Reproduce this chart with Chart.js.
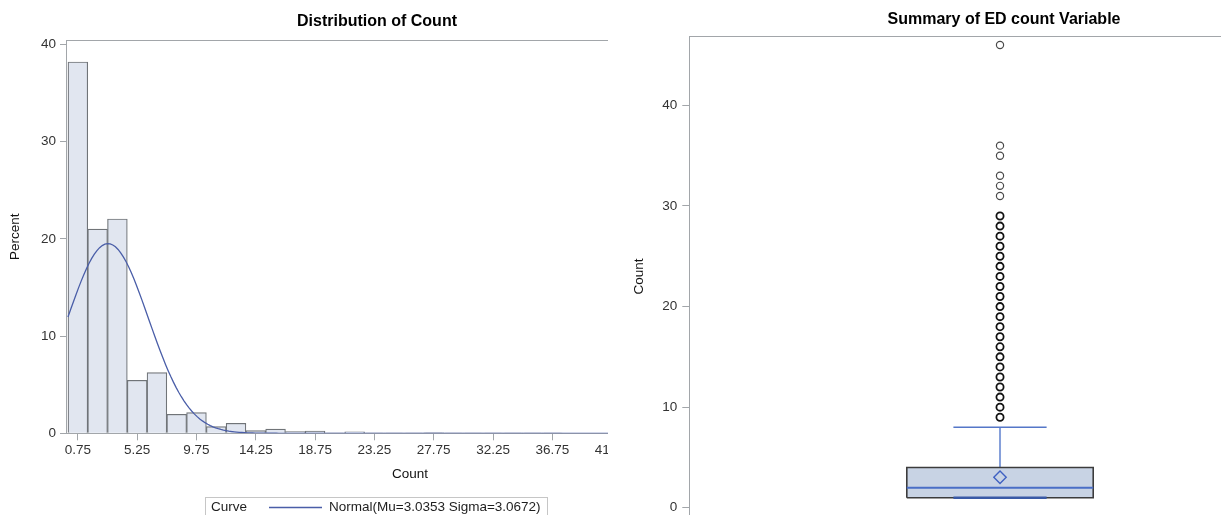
<!DOCTYPE html>
<html>
<head>
<meta charset="utf-8">
<script src="https://cdn.jsdelivr.net/npm/chart.js@4.4.1/dist/chart.umd.min.js"></script>
<style>
  html, body { margin: 0; padding: 0; background: #fff; }
  body { width: 1221px; height: 515px; overflow: hidden; position: relative; }
  #histWrap { position: absolute; left: 0; top: 0; width: 608px; height: 515px; overflow: hidden; }
  #boxWrap { position: absolute; left: 612px; top: 0; width: 609px; height: 515px; overflow: hidden; }
  canvas { display: block; }
</style>
</head>
<body>
<div id="histWrap"><canvas id="hist" width="754" height="530"></canvas></div>
<div id="boxWrap"><canvas id="box" width="784" height="530"></canvas></div>
<script>
// ---- Histogram of Count (bin width 1.5, values in percent) ----
const binMidpoints = [0.75, 2.25, 3.75, 5.25, 6.75, 8.25, 9.75, 11.25, 12.75, 14.25,
                      15.75, 17.25, 18.75, 20.25, 21.75, 23.25, 24.75, 26.25, 27.75, 29.25,
                      30.75, 32.25, 33.75, 35.25, 36.75, 38.25, 39.75, 41.25, 42.75, 44.25, 45.75];
const binPercents  = [38.2, 21.0, 22.05, 5.45, 6.25, 1.95, 2.12, 0.68, 1.03, 0.27,
                      0.44, 0.17, 0.22, 0.05, 0.15, 0.04, 0.04, 0.03, 0.08, 0.04,
                      0.03, 0.04, 0.02, 0.04, 0.02, 0, 0, 0, 0, 0, 0.02];
const countTicks      = [0.75, 5.25, 9.75, 14.25, 18.75, 23.25, 27.75, 32.25, 36.75, 41.25, 45.75, 50.25];
const countTickLabels = ['0.75', '5.25', '9.75', '14.25', '18.75', '23.25', '27.75', '32.25', '36.75', '41.25', '45.75', '50.25'];
const percentTicks    = [0, 10, 20, 30, 40];

// Fitted normal curve parameters
const NORMAL_MU = 3.0353;
const NORMAL_SIGMA = 3.0672;
const BIN_WIDTH = 1.5;

// ---- Box plot of ED count ----
const edLowerWhisker = 1;
const edQ1 = 1;
const edMedian = 2;
const edQ3 = 4;
const edUpperWhisker = 8;
const edMean = 3.0353;
const edOutliersFrequent = [9, 10, 11, 12, 13, 14, 15, 16, 17, 18, 19, 20, 21, 22, 23, 24, 25, 26, 27, 28, 29];
const edOutliersSparse = [31, 32, 33, 35, 36, 46];
const edCountTicks = [0, 10, 20, 30, 40];

// Normal density expressed as percent per bin
function normalPercent(x) {
  const z = (x - NORMAL_MU) / NORMAL_SIGMA;
  return 100 * BIN_WIDTH * Math.exp(-0.5 * z * z) / (NORMAL_SIGMA * Math.sqrt(2 * Math.PI));
}
const curvePoints = [];
for (let i = 0; i <= 260; i++) {
  const x = i * 0.2;
  curvePoints.push({ x: x, y: normalPercent(x) });
}

const FONT = '"Liberation Sans", Arial, Helvetica, sans-serif';
Chart.defaults.font.family = FONT;
Chart.defaults.color = '#333';

const AXIS_GRAY = '#a2a6aa';

// Outline of the plot wall
const plotFrame = {
  id: 'plotFrame',
  beforeDatasetsDraw(chart) {
    const { ctx, chartArea: a } = chart;
    ctx.save();
    ctx.strokeStyle = AXIS_GRAY;
    ctx.lineWidth = 1;
    ctx.strokeRect(Math.round(a.left) + 0.5, Math.round(a.top) + 0.5,
                   Math.round(a.right - a.left), Math.round(a.bottom - a.top));
    ctx.restore();
  }
};

// Legend box: "Curve" heading, line sample and the fitted curve label
const curveLegend = {
  id: 'curveLegend',
  afterDraw(chart) {
    const ds = chart.data.datasets.find(d => d.type === 'line');
    const { ctx } = chart;
    ctx.save();
    ctx.strokeStyle = '#c6c6c6';
    ctx.lineWidth = 1;
    ctx.strokeRect(205.5, 497.5, 342, 30);
    ctx.font = '13.5px ' + FONT;
    ctx.fillStyle = '#1e1e1e';
    ctx.textBaseline = 'middle';
    ctx.textAlign = 'left';
    ctx.fillText('Curve', 211, 507);
    ctx.strokeStyle = ds.borderColor;
    ctx.lineWidth = ds.borderWidth;
    ctx.beginPath();
    ctx.moveTo(269, 507.5);
    ctx.lineTo(322, 507.5);
    ctx.stroke();
    ctx.fillText(ds.label, 329, 507);
    ctx.restore();
  }
};

new Chart(document.getElementById('hist'), {
  type: 'bar',
  data: {
    datasets: [
      {
        type: 'line',
        label: 'Normal(Mu=' + NORMAL_MU.toFixed(4) + ' Sigma=' + NORMAL_SIGMA.toFixed(4) + ')',
        data: curvePoints,
        borderColor: '#4a5ea8',
        borderWidth: 1.3,
        pointRadius: 0,
        tension: 0,
        fill: false,
        order: 0
      },
      {
        type: 'bar',
        label: 'Percent',
        data: binMidpoints.map((m, i) => ({ x: m, y: binPercents[i] })),
        backgroundColor: '#e1e6f0',
        borderColor: '#707478',
        borderWidth: 1.2,
        barPercentage: 1,
        categoryPercentage: 1,
        order: 1
      }
    ]
  },
  options: {
    responsive: false,
    animation: false,
    events: [],
    layout: { padding: { left: 0, right: 0, top: 0, bottom: 41.7 } },
    plugins: {
      legend: { display: false },
      tooltip: { enabled: false },
      title: {
        display: true,
        text: 'Distribution of Count',
        color: '#000',
        font: { size: 16, weight: 'bold' },
        padding: { top: 12, bottom: 8.8 }
      }
    },
    scales: {
      x: {
        type: 'linear',
        min: -0.15,
        max: 52.05,
        offset: false,
        afterBuildTicks: s => { s.ticks = countTicks.map(v => ({ value: v })); },
        afterFit: s => { s.height = 55; },
        ticks: {
          callback: (v, i) => countTickLabels[i],
          font: { size: 13.5 },
          color: '#333',
          padding: 2,
          maxRotation: 0,
          autoSkip: false
        },
        grid: { display: true, drawOnChartArea: false, offset: false, tickLength: 7, color: AXIS_GRAY },
        border: { color: AXIS_GRAY },
        title: { display: true, text: 'Count', color: '#111', font: { size: 13.5 }, padding: { top: 0, bottom: 6.2 } }
      },
      y: {
        type: 'linear',
        min: 0,
        max: 40.46,
        afterBuildTicks: s => { s.ticks = percentTicks.map(v => ({ value: v })); },
        afterFit: s => { s.width = 66; },
        ticks: { font: { size: 13.5 }, color: '#333', padding: 4 },
        grid: { display: true, drawOnChartArea: false, tickLength: 6, color: AXIS_GRAY },
        border: { color: AXIS_GRAY },
        title: { display: true, text: 'Percent', color: '#111', font: { size: 13.5 }, padding: { top: 6.9, bottom: 0 } }
      }
    }
  },
  plugins: [plotFrame, curveLegend]
});

// Half widths of the box and whisker caps, in x-axis units
const BOX_HALF = 0.3;
const CAP_HALF = 0.15;
const seg = (x0, x1, y0, y1) => [{ x: x0, y: y0 }, { x: x1, y: y1 }];
const noPts = { pointRadius: 0, tension: 0, fill: false };

new Chart(document.getElementById('box'), {
  type: 'scatter',
  data: {
    datasets: [
      {
        label: 'Outliers',
        data: edOutliersFrequent.map(v => ({ x: 0, y: v })),
        pointStyle: 'circle', pointRadius: 3.6,
        borderColor: '#111', borderWidth: 1.8, backgroundColor: 'rgba(0,0,0,0)'
      },
      {
        label: 'Outliers (single)',
        data: edOutliersSparse.map(v => ({ x: 0, y: v })),
        pointStyle: 'circle', pointRadius: 3.6,
        borderColor: '#4a4a4a', borderWidth: 1.2, backgroundColor: 'rgba(0,0,0,0)'
      },
      {
        label: 'Mean',
        data: [{ x: 0, y: edMean }],
        pointStyle: 'rectRot', pointRadius: 6.2,
        borderColor: '#3f61c2', borderWidth: 1.4, backgroundColor: 'rgba(0,0,0,0)'
      },
      Object.assign({ type: 'line', label: 'Median', data: seg(-BOX_HALF, BOX_HALF, edMedian, edMedian),
        borderColor: '#4a6ec6', borderWidth: 2 }, noPts),
      Object.assign({ type: 'line', label: 'Lower whisker', data: seg(-CAP_HALF, CAP_HALF, edLowerWhisker, edLowerWhisker),
        borderColor: '#3a5aa6', borderWidth: 2.6 }, noPts),
      Object.assign({ type: 'line', label: 'Box', data: [
          { x: -BOX_HALF, y: edQ1 }, { x: BOX_HALF, y: edQ1 }, { x: BOX_HALF, y: edQ3 },
          { x: -BOX_HALF, y: edQ3 }, { x: -BOX_HALF, y: edQ1 }],
        borderColor: '#3c3c3c', borderWidth: 1.6 }, noPts),
      Object.assign({ type: 'line', label: 'Upper whisker cap', data: seg(-CAP_HALF, CAP_HALF, edUpperWhisker, edUpperWhisker),
        borderColor: '#5577c8', borderWidth: 1.6 }, noPts),
      Object.assign({ type: 'line', label: 'Upper whisker', data: seg(0, 0, edQ3, edUpperWhisker),
        borderColor: '#86a0da', borderWidth: 2 }, noPts),
      {
        type: 'line', label: 'Box fill', data: seg(-BOX_HALF, BOX_HALF, edQ3, edQ3),
        fill: { value: edQ1 }, backgroundColor: '#c8d3e4', borderWidth: 0,
        borderColor: 'rgba(0,0,0,0)', pointRadius: 0, tension: 0
      }
    ]
  },
  options: {
    responsive: false,
    animation: false,
    events: [],
    layout: { padding: { left: 0, right: 0, top: 0, bottom: 13.2 } },
    plugins: {
      legend: { display: false },
      tooltip: { enabled: false },
      title: {
        display: true,
        text: 'Summary of ED count Variable',
        color: '#000',
        font: { size: 16, weight: 'bold' },
        padding: { top: 10.4, bottom: 6.4 }
      }
    },
    scales: {
      x: { type: 'linear', display: false, min: -1, max: 1.25 },
      y: {
        type: 'linear',
        min: -0.9,
        max: 46.9,
        afterBuildTicks: s => { s.ticks = edCountTicks.map(v => ({ value: v })); },
        afterFit: s => { s.width = 77.3; },
        ticks: { font: { size: 13.5 }, color: '#333', padding: 5 },
        grid: { display: true, drawOnChartArea: false, tickLength: 7, color: AXIS_GRAY },
        border: { color: AXIS_GRAY },
        title: { display: true, text: 'Count', color: '#111', font: { size: 13.5 }, padding: { top: 18.9, bottom: 0 } }
      }
    }
  },
  plugins: [plotFrame]
});
</script>
</body>
</html>
